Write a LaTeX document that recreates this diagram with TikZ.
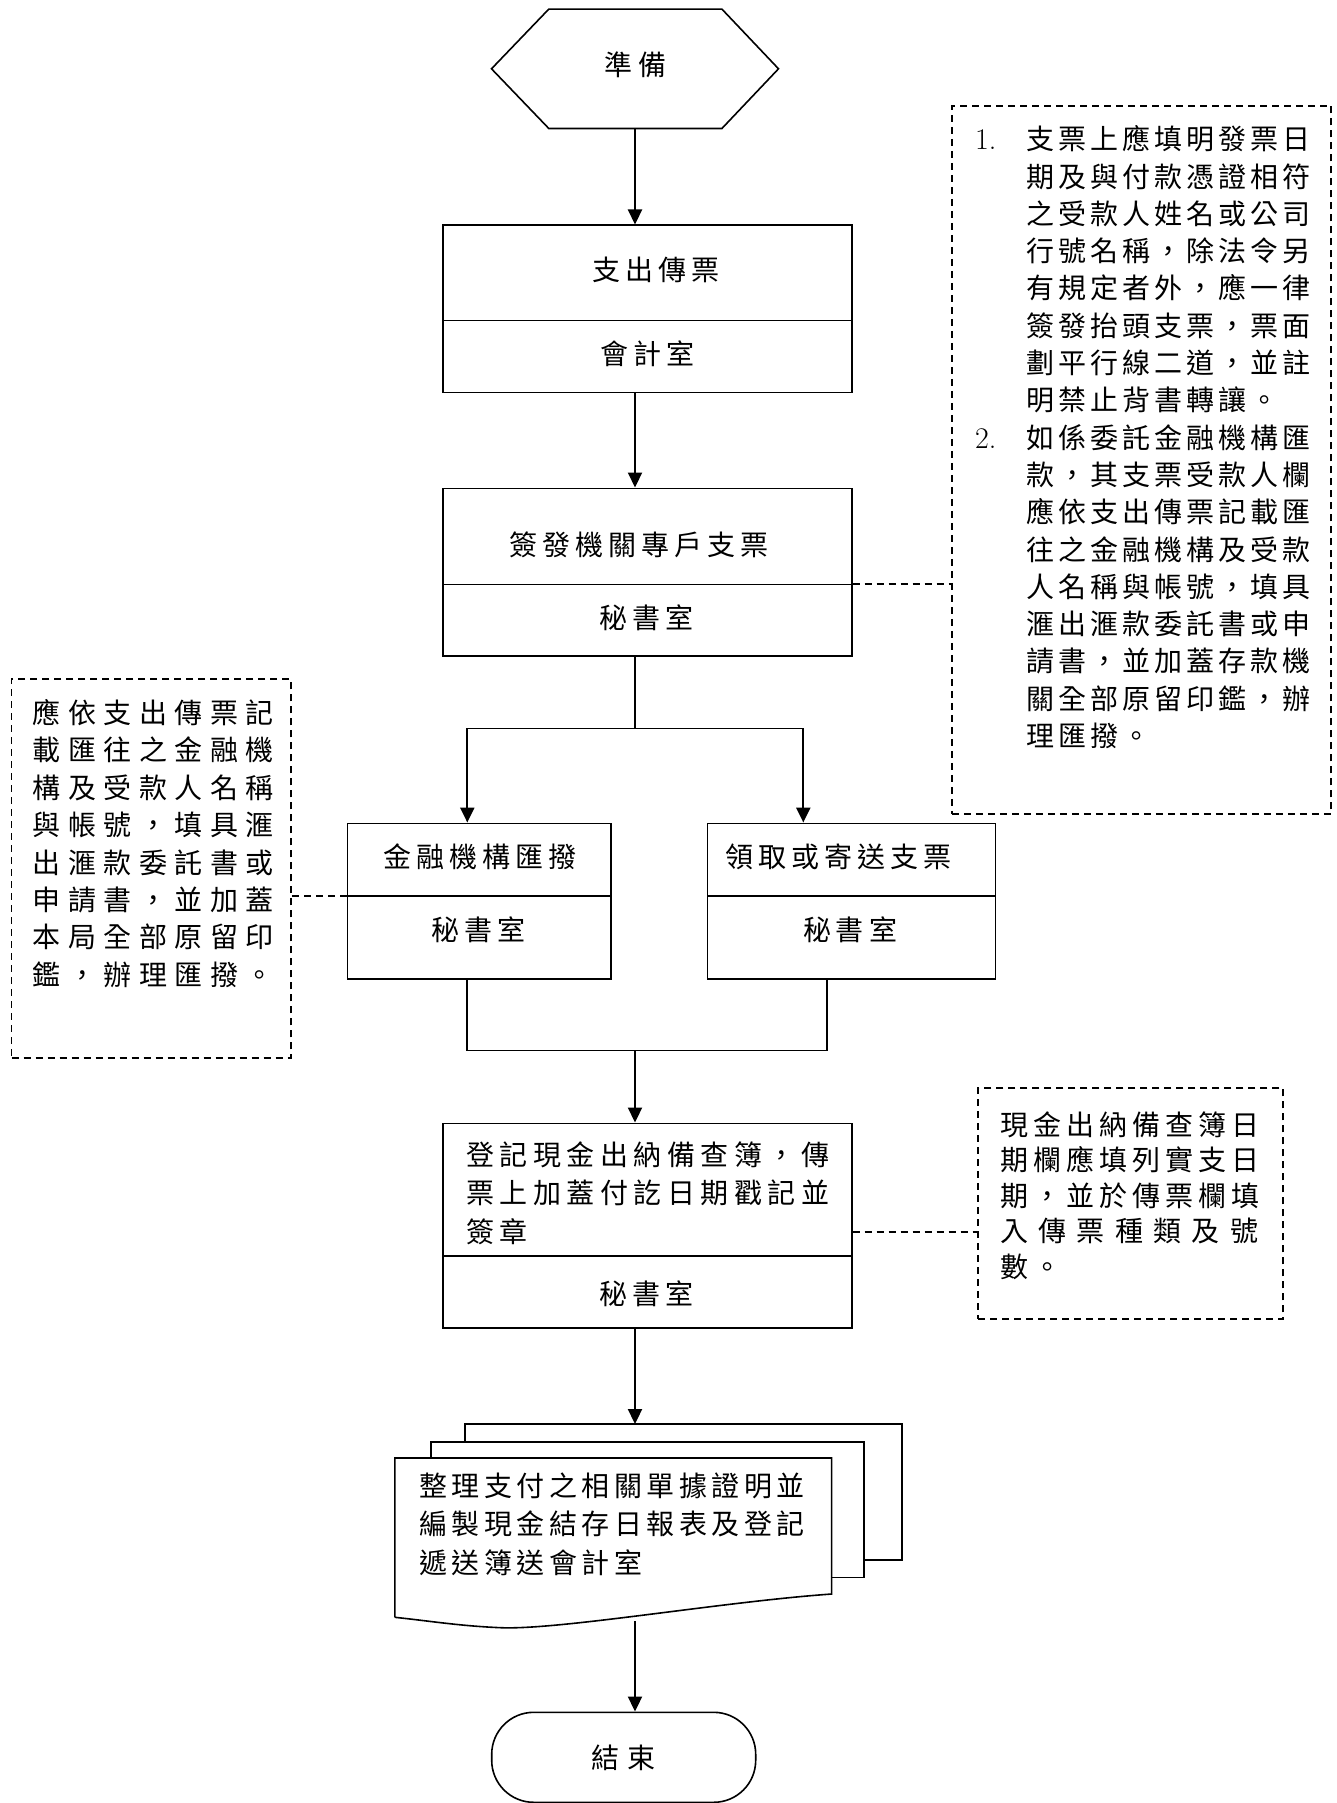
\documentclass[tikz,border=0pt]{standalone}
\usepackage{fontspec}
\newfontfamily\cjk{Noto Sans CJK TC}
\usetikzlibrary{arrows.meta}
\newlength\csep
\def\SPend{\relax}
\def\SPi#1{\ifx#1\SPend\unkern\else#1\kern\csep\expandafter\SPi\fi}
\newcommand\SP[2]{\setlength\csep{#1pt}\SPi#2\SPend}
\newcommand\num[1]{\makebox[51pt][l]{\rmfamily\fontsize{30}{30}\selectfont #1}}
\newcommand\ind{\hspace*{51pt}}
\begin{document}
\begin{tikzpicture}[x=1pt,y=-1pt,
  outline/.style={line width=1.6pt},
  box/.style={draw,line width=1.6pt,inner sep=0pt},
  txt/.style={font=\cjk\fontsize{28}{32}\selectfont,inner sep=0pt},
  para/.style={font=\cjk\fontsize{28}{#1}\selectfont,inner sep=0pt,align=left,anchor=north west},
  note/.style={draw,line width=1.8pt,dash pattern=on 7pt off 5pt,inner sep=0pt},
  noteline/.style={line width=1.8pt,dash pattern=on 7pt off 5pt},
  arr/.style={line width=2.2pt,-{Triangle[length=15pt,width=14pt]}},
  conn/.style={line width=1.4pt}]
\useasboundingbox (0,0) rectangle (1337,1803);

% start hexagon
\node[txt,minimum width=286.6pt,minimum height=119pt] (hex) at (635,68.8) {\raisebox{-6.8pt}[0pt][0pt]{\SP{6}{準備}}};
\draw[outline] (hex.west) -- ([xshift=57.3pt]hex.north west) -- ([xshift=-56.6pt]hex.north east)
  -- (hex.east) -- ([xshift=-56.6pt]hex.south east) -- ([xshift=57.3pt]hex.south west) -- cycle;

% box 1
\node[box,minimum width=409pt,minimum height=167pt] (b1) at (647.2,308.8) {};
\draw[outline] (442.7,320.3) -- (851.7,320.3);
\node[txt] (b1t) at (655.7,270) {\SP{5}{支出傳票}};
\node[txt] (b1d) at (647.3,353.3) {\SP{5}{會計室}};

% box 2
\node[box,minimum width=409pt,minimum height=167.7pt] (b2) at (647.2,572.15) {};
\draw[outline] (442.7,584.3) -- (851.7,584.3);
\node[txt] (b2t) at (639.2,545) {\SP{5}{簽發機關專戶支票}};
\node[txt] (b2d) at (646.3,617.3) {\SP{5}{秘書室}};

% box 3
\node[box,minimum width=263.7pt,minimum height=155.7pt] (b3) at (479.15,901.15) {};
\draw[outline] (347.3,895.7) -- (611,895.7);
\node[txt] (b3t) at (480,856.7) {\SP{5}{金融機構匯撥}};
\node[txt] (b3d) at (478.4,930) {\SP{5}{秘書室}};

% box 4
\node[box,minimum width=287.9pt,minimum height=155.7pt] (b4) at (851.55,901.15) {};
\draw[outline] (707.6,895.7) -- (995.5,895.7);
\node[txt] (b4t) at (838.4,856.7) {\SP{5}{領取或寄送支票}};
\node[txt] (b4d) at (850,930) {\SP{5}{秘書室}};

% box 5
\node[box,minimum width=409pt,minimum height=204.4pt] (b5) at (647.2,1225.5) {};
\draw[outline] (442.7,1255.7) -- (851.7,1255.7);
\node[para=38.3] (b5t) at (466,1141.5) {\SP{5.5}{登記現金出納備查簿，傳}\\\SP{5.5}{票上加蓋付訖日期戳記並}\\\SP{5.5}{簽章}};
\node[txt] (b5d) at (646.7,1293.3) {\SP{5}{秘書室}};

% document (multiple pages)
\draw[outline] (464.8,1441.7) -- (464.8,1424) -- (901.8,1424) -- (901.8,1560) -- (863.7,1560);
\draw[outline] (430.9,1458) -- (430.9,1441.7) -- (863.7,1441.7) -- (863.7,1577.3) -- (831.6,1577.3);
\draw[outline] (394.9,1617.3) -- (394.9,1458) -- (831.6,1458) -- (831.6,1594)
  .. controls (720,1602) and (560,1630) .. (501,1627.7)
  .. controls (460,1626) and (430,1621) .. (394.9,1617.3);
\node[para=38.5] (doct) at (419,1472.5) {\SP{4.5}{整理支付之相關單據證明並}\\\SP{4.5}{編製現金結存日報表及登記}\\\SP{4.5}{遞送簿送會計室}};
\coordinate (doctop) at (635,1424);
\coordinate (docbot) at (635,1621);

% end terminal
\node[box,rounded corners=42pt,minimum width=264pt,minimum height=90pt,font=\cjk\fontsize{28}{32}\selectfont] (end) at (623.7,1757.3) {\SP{8}{結束}};

% notes
\node[note,minimum width=379.4pt,minimum height=708.2pt] (n1) at (1141.6,459.9) {};
\node[para=37.3] (n1t) at (975,125.5) {%
\num{1.}\SP{4}{支票上應填明發票日}\\
\ind\SP{4}{期及與付款憑證相符}\\
\ind\SP{4}{之受款人姓名或公司}\\
\ind\SP{4}{行號名稱，除法令另}\\
\ind\SP{4}{有規定者外，應一律}\\
\ind\SP{4}{簽發抬頭支票，票面}\\
\ind\SP{4}{劃平行線二道，並註}\\
\ind\SP{4}{明禁止背書轉讓。}\\
\num{2.}\SP{4}{如係委託金融機構匯}\\
\ind\SP{4}{款，其支票受款人欄}\\
\ind\SP{4}{應依支出傳票記載匯}\\
\ind\SP{4}{往之金融機構及受款}\\
\ind\SP{4}{人名稱與帳號，填具}\\
\ind\SP{4}{滙出滙款委託書或申}\\
\ind\SP{4}{請書，並加蓋存款機}\\
\ind\SP{4}{關全部原留印鑑，辦}\\
\ind\SP{4}{理匯撥。}};

\node[note,minimum width=279.3pt,minimum height=379pt] (n2) at (151.15,868.5) {};
\node[para=37.4] (n2t) at (32.5,699.3) {%
\SP{7.5}{應依支出傳票記}\\
\SP{7.5}{載匯往之金融機}\\
\SP{7.5}{構及受款人名稱}\\
\SP{7.5}{與帳號，填具滙}\\
\SP{7.5}{出滙款委託書或}\\
\SP{7.5}{申請書，並加蓋}\\
\SP{7.5}{本局全部原留印}\\
\SP{7.5}{鑑，辦理匯撥。}};

\node[note,minimum width=305pt,minimum height=231pt] (n3) at (1130.8,1203.8) {};
\node[para=35.4] (n3t) at (1000,1111.5) {%
\SP{5}{現金出納備查簿日}\\
\SP{5}{期欄應填列實支日}\\
\SP{5}{期，並於傳票欄填}\\
\SP{10.3}{入傳票種類及號}\\
\SP{5}{數。}};

% connectors
\draw[arr] (hex.south) -- (hex.south |- b1.north);
\draw[arr] (b1.south -| hex.south) -- (hex.south |- b2.north);
\coordinate (split) at (635,728.3);
\coordinate (s3) at (467.3,728.3);
\coordinate (s4) at (803.3,728.3);
\draw[conn] (b2.south -| split) -- (split);
\draw[conn] (s3) -- (s4);
\draw[arr] (s3) -- (s3 |- b3.north);
\draw[arr] (s4) -- (s4 |- b4.north);
\coordinate (m3) at (467,1050.7);
\coordinate (m4) at (827,1050.7);
\coordinate (merge) at (635,1050.7);
\draw[conn] (m3 |- b3.south) -- (m3) -- (m4) -- (m4 |- b4.south);
\draw[arr] (merge) -- (merge |- b5.north);
\draw[arr] (b5.south -| doctop) -- (doctop);
\draw[arr] (docbot) -- (docbot |- end.north);

% dashed note connectors
\draw[noteline] ([yshift=-12.15pt]b2.east) coordinate (d1) -- (d1 -| n1.west);
\draw[noteline] ([yshift=5.45pt]b3.west) coordinate (d2) -- (d2 -| n2.east);
\draw[noteline] ([yshift=-6.8pt]b5.east) coordinate (d3) -- (d3 -| n3.west);
\end{tikzpicture}
\end{document}
